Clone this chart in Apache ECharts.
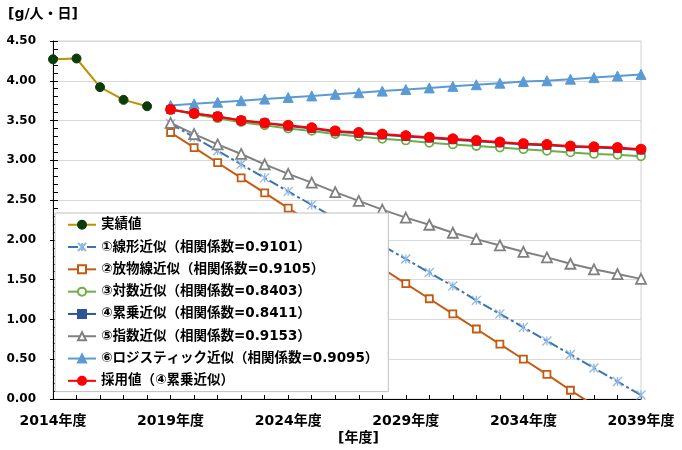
<!DOCTYPE html>
<html>
<head>
<meta charset="utf-8">
<script src="https://cdn.jsdelivr.net/npm/echarts@6/dist/echarts.min.js"></script>
<style>
  html, body { margin: 0; padding: 0; background: #ffffff; }
  #chart { width: 682px; height: 450px; }
</style>
</head>
<body>
<div id="chart"></div>
<script>
// Fiscal years on the category axis
const years = [
  '2014年度', '2015年度', '2016年度', '2017年度', '2018年度', '2019年度',
  '2020年度', '2021年度', '2022年度', '2023年度', '2024年度', '2025年度',
  '2026年度', '2027年度', '2028年度', '2029年度', '2030年度', '2031年度',
  '2032年度', '2033年度', '2034年度', '2035年度', '2036年度', '2037年度',
  '2038年度', '2039年度'
];

// Observed values, FY2014–FY2018 [g/人・日]
const actual = [4.27, 4.28, 3.92, 3.76, 3.68];

// Projections, FY2019–FY2039
const linearFit = [3.46, 3.29, 3.12, 2.95, 2.78, 2.61, 2.44, 2.27, 2.10, 1.93, 1.76,
                   1.59, 1.42, 1.24, 1.07, 0.90, 0.73, 0.56, 0.39, 0.22, 0.05];
const parabolicFit = [3.35, 3.16, 2.97, 2.78, 2.59, 2.40, 2.21, 2.02, 1.83, 1.64, 1.45,
                      1.26, 1.07, 0.88, 0.69, 0.50, 0.31, 0.11, -0.08, -0.28, -0.48];
const logFit = [3.64, 3.58, 3.53, 3.48, 3.44, 3.40, 3.37, 3.33, 3.30, 3.27, 3.25,
                3.22, 3.20, 3.18, 3.16, 3.14, 3.12, 3.10, 3.08, 3.07, 3.05];
const powerFit = [3.64, 3.59, 3.55, 3.50, 3.47, 3.43, 3.40, 3.36, 3.34, 3.32, 3.30,
                  3.28, 3.26, 3.24, 3.22, 3.20, 3.19, 3.17, 3.16, 3.15, 3.13];
const expFit = [3.47, 3.33, 3.20, 3.08, 2.95, 2.83, 2.72, 2.60, 2.49, 2.38, 2.28,
                2.19, 2.09, 2.01, 1.93, 1.85, 1.78, 1.70, 1.63, 1.57, 1.51];
const logisticFit = [3.69, 3.71, 3.73, 3.75, 3.77, 3.79, 3.81, 3.83, 3.85, 3.87, 3.89,
                     3.91, 3.93, 3.95, 3.97, 3.99, 4.00, 4.02, 4.04, 4.06, 4.08];
const adopted = [3.64, 3.59, 3.55, 3.50, 3.47, 3.44, 3.41, 3.37, 3.35, 3.33, 3.31,
                 3.29, 3.27, 3.25, 3.23, 3.21, 3.20, 3.18, 3.17, 3.16, 3.14];

// Series names (legend text)
const seriesNames = [
  '実績値',
  '①線形近似（相関係数=0.9101）',
  '②放物線近似（相関係数=0.9105）',
  '③対数近似（相関係数=0.8403）',
  '④累乗近似（相関係数=0.8411）',
  '⑤指数近似（相関係数=0.9153）',
  '⑥ロジスティック近似（相関係数=0.9095）',
  '採用値（④累乗近似）'
];

// Y axis ticks
const yMin = 0, yMax = 4.5, yStep = 0.5;

const FONT = "'DejaVu Sans', 'Noto Sans CJK JP', sans-serif";
const firstForecast = 5;   // index of FY2019

function pad(values, start) {
  const out = new Array(years.length).fill(null);
  values.forEach((v, i) => { out[start + i] = v; });
  return out;
}

function lineSeries(name, values, start, lineColor, symbol, size, item, dash) {
  return {
    name: name,
    type: 'line',
    data: pad(values, start),
    clip: true,
    symbol: symbol,
    symbolSize: size,
    showAllSymbol: true,
    lineStyle: { color: lineColor, width: 2, type: dash || 'solid' },
    itemStyle: item,
    emphasis: { disabled: true }
  };
}

const chart = echarts.init(document.getElementById('chart'), null, { renderer: 'canvas' });

chart.setOption({
  animation: false,
  backgroundColor: '#ffffff',
  textStyle: { fontFamily: FONT },
  grid: {
    left: 53, right: 41, top: 41, bottom: 51,
    show: true, borderColor: '#d0d0d0', borderWidth: 1, backgroundColor: 'transparent'
  },
  graphic: [
    { type: 'text', left: 8, top: 7,
      style: { text: '[g/人・日]', font: 'bold 14px ' + FONT, fill: '#000' } },
    { type: 'text', left: 338, top: 431,
      style: { text: '[年度]', font: 'bold 14px ' + FONT, fill: '#000' } }
  ],
  legend: {
    orient: 'vertical',
    left: 55, top: 213,
    padding: [5, 10, 4, 12],
    itemWidth: 28, itemHeight: 10, itemGap: 8.8,
    backgroundColor: '#ffffff',
    borderColor: '#bfbfbf', borderWidth: 1,
    selectedMode: false,
    textStyle: { fontFamily: FONT, fontWeight: 'bold', fontSize: 13.5, color: '#000' },
    data: seriesNames
  },
  xAxis: {
    type: 'category',
    data: years,
    boundaryGap: false,
    axisLine: { lineStyle: { color: '#000', width: 1 } },
    axisTick: { show: true, inside: true, interval: 0, length: 4, lineStyle: { color: '#000' } },
    axisLabel: { interval: 4, margin: 15, color: '#000', fontWeight: 'bold', fontSize: 14, fontFamily: FONT },
    splitLine: { show: false }
  },
  yAxis: [
    {
      type: 'value', min: yMin, max: yMax, interval: yStep,
      axisLine: { show: true, lineStyle: { color: '#000', width: 1 } },
      axisTick: { show: true, inside: true, length: 5, lineStyle: { color: '#000' } },
      minorTick: { show: true, splitNumber: 5, length: 5, lineStyle: { color: '#000' } },
      axisLabel: { margin: 17, color: '#000', fontWeight: 'bold', fontSize: 12, fontFamily: FONT,
                   formatter: v => v.toFixed(2) },
      splitLine: { show: true, lineStyle: { color: '#d9d9d9', width: 1 } }
    },
    {
      type: 'value', min: yMin, max: yMax, interval: yStep, position: 'left',
      axisLine: { show: false },
      axisTick: { show: true, inside: false, length: 3, lineStyle: { color: '#000' } },
      axisLabel: { show: false },
      splitLine: { show: false }
    }
  ],
  series: [
    lineSeries(seriesNames[0], actual, 0, '#bf9000', 'circle', 9,
      { color: '#0b3d0b', borderColor: '#0b3d0b', borderWidth: 1 }),
    lineSeries(seriesNames[1], linearFit, firstForecast, '#3a75b0',
      'path://M0,0L10,10M10,0L0,10M5,0L5,10', 9,
      { color: '#8fb8e3', borderColor: '#8fb8e3', borderWidth: 1.3 }, [10, 3, 3, 3]),
    lineSeries(seriesNames[2], parabolicFit, firstForecast, '#c55a11', 'rect', 7,
      { color: '#ffffff', borderColor: '#c55a11', borderWidth: 1.8 }),
    lineSeries(seriesNames[3], logFit, firstForecast, '#70ad47', 'circle', 8,
      { color: '#ffffff', borderColor: '#70ad47', borderWidth: 1.8 }),
    lineSeries(seriesNames[4], powerFit, firstForecast, '#2f5597', 'rect', 8,
      { color: '#2f5597', borderColor: '#2f5597', borderWidth: 1 }),
    lineSeries(seriesNames[5], expFit, firstForecast, '#808080', 'triangle', 10,
      { color: '#ffffff', borderColor: '#808080', borderWidth: 1.8 }),
    lineSeries(seriesNames[6], logisticFit, firstForecast, '#5b9bd5', 'triangle', 10,
      { color: '#5b9bd5', borderColor: '#5b9bd5', borderWidth: 1 }),
    lineSeries(seriesNames[7], adopted, firstForecast, '#ff0000', 'circle', 10,
      { color: '#ff0000', borderColor: '#ff0000', borderWidth: 1 })
  ]
});
</script>
</body>
</html>
